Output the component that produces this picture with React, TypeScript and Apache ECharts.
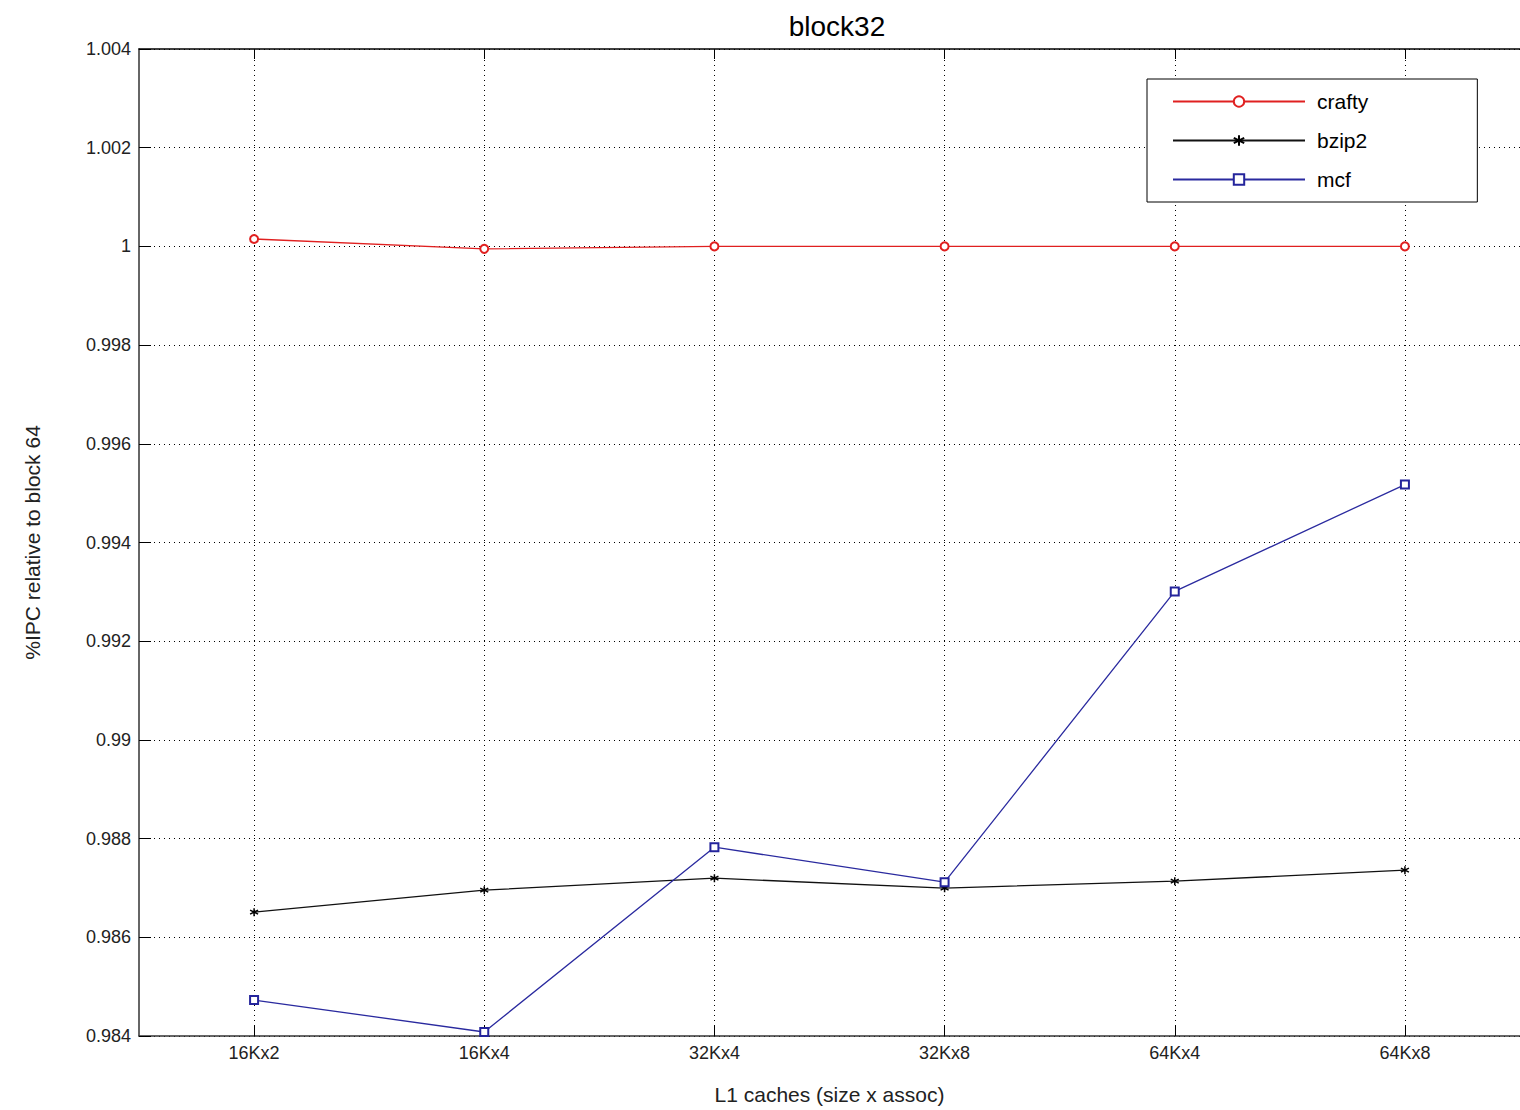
import React, { useEffect, useRef } from "react";
import * as echarts from "echarts";

const categories = ["16Kx2", "16Kx4", "32Kx4", "32Kx8", "64Kx4", "64Kx8"];
const crafty = [1.00015, 0.99995, 1.0, 1.0, 1.0, 1.0];
const bzip2 = [0.98651, 0.986955, 0.987198, 0.986996, 0.987138, 0.98736];
const mcf = [0.984729, 0.984081, 0.987826, 0.987117, 0.993008, 0.995174];
const yMin = 0.984;
const yMax = 1.004;
const yStep = 0.002;

const FONT = "'Liberation Sans', Arial, sans-serif";
const asterisk =
  "path://M0,-5L0,5M-4.33,-2.5L4.33,2.5M-4.33,2.5L4.33,-2.5";

export default function App() {
  const ref = useRef<HTMLDivElement>(null);
  useEffect(() => {
    document.body.style.margin = "0";
    const chart = echarts.init(ref.current!, null, { renderer: "svg" });
    const dotted = { color: "#000", type: [1, 4] as any, width: 1 };
    chart.setOption({
      animation: false,
      backgroundColor: "#fff",
      title: {
        text: "block32",
        left: 832,
        top: 7,
        textAlign: "center",
        textStyle: { fontFamily: FONT, fontSize: 28, fontWeight: "normal", color: "#000" },
      },
      legend: {
        orient: "vertical",
        left: 1147,
        top: 79,
        padding: [12, 109, 12, 25],
        itemWidth: 132,
        itemHeight: 13,
        itemGap: 18,
        borderColor: "#000",
        borderWidth: 1,
        borderRadius: 0,
        backgroundColor: "#fff",
        textStyle: { fontFamily: FONT, fontSize: 21, lineHeight: 21, color: "#000", padding: [0, 0, 0, 7] },
        data: ["crafty", "bzip2", "mcf"],
      },
      grid: { left: 139, top: 49, width: 1382, bottom: 74, containLabel: false },
      xAxis: [
        {
          type: "category",
          data: categories,
          boundaryGap: true,
          name: "L1 caches (size x assoc)",
          nameLocation: "middle",
          nameGap: 48,
          nameTextStyle: { fontFamily: FONT, fontSize: 21, color: "#222" },
          axisLine: { lineStyle: { color: "#333", width: 1.5 } },
          axisTick: { show: true, inside: true, length: 10, alignWithLabel: true, lineStyle: { color: "#000" } },
          axisLabel: { fontFamily: FONT, fontSize: 18, color: "#222", margin: 8 },
          splitLine: { show: false },
        },
        {
          type: "category",
          data: categories,
          position: "top",
          boundaryGap: true,
          axisLine: { lineStyle: { color: "#000", width: 1.5 } },
          axisTick: { show: true, inside: true, length: 10, alignWithLabel: true, lineStyle: { color: "#000" } },
          axisLabel: { show: false },
          splitLine: { show: false },
        },
      ],
      yAxis: {
        type: "value",
        min: yMin,
        max: yMax,
        interval: yStep,
        name: "%IPC relative to block 64",
        nameLocation: "middle",
        nameGap: 96,
        nameTextStyle: { fontFamily: FONT, fontSize: 21, color: "#222" },
        axisLine: { show: true, lineStyle: { color: "#333", width: 1.5 } },
        axisTick: { show: true, inside: true, length: 12, lineStyle: { color: "#000" } },
        axisLabel: {
          fontFamily: FONT,
          fontSize: 18,
          color: "#222",
          margin: 8,
          formatter: (v: number) => String(parseFloat(v.toFixed(3))),
        },
        splitLine: { show: true, lineStyle: dotted },
      },
      series: [
        {
          name: "crafty",
          type: "line",
          data: crafty,
          symbol: "emptyCircle",
          symbolSize: 8,
          color: "#e02020",
          lineStyle: { color: "#e02020", width: 1.3 },
          itemStyle: { color: "#e02020", borderWidth: 1.2 },
          z: 3,
          markLine: {
            silent: true,
            symbol: "none",
            label: { show: false },
            lineStyle: dotted,
            emphasis: { disabled: true },
            data: categories.map((c) => ({ xAxis: c })),
            z: 1,
          },
        },
        {
          name: "bzip2",
          type: "line",
          data: bzip2,
          symbol: asterisk,
          symbolSize: 8,
          color: "#000",
          lineStyle: { color: "#111", width: 1.3 },
          itemStyle: { color: "#000", borderColor: "#000", borderWidth: 1.5 },
          z: 3,
        },
        {
          name: "mcf",
          type: "line",
          data: mcf,
          symbol: "emptyRect",
          symbolSize: 8,
          color: "#24249c",
          lineStyle: { color: "#2a2a9f", width: 1.3 },
          itemStyle: { color: "#24249c", borderWidth: 1.2 },
          z: 3,
        },
      ],
    });
    return () => chart.dispose();
  }, []);
  return <div ref={ref} style={{ width: 1520, height: 1110 }} />;
}
